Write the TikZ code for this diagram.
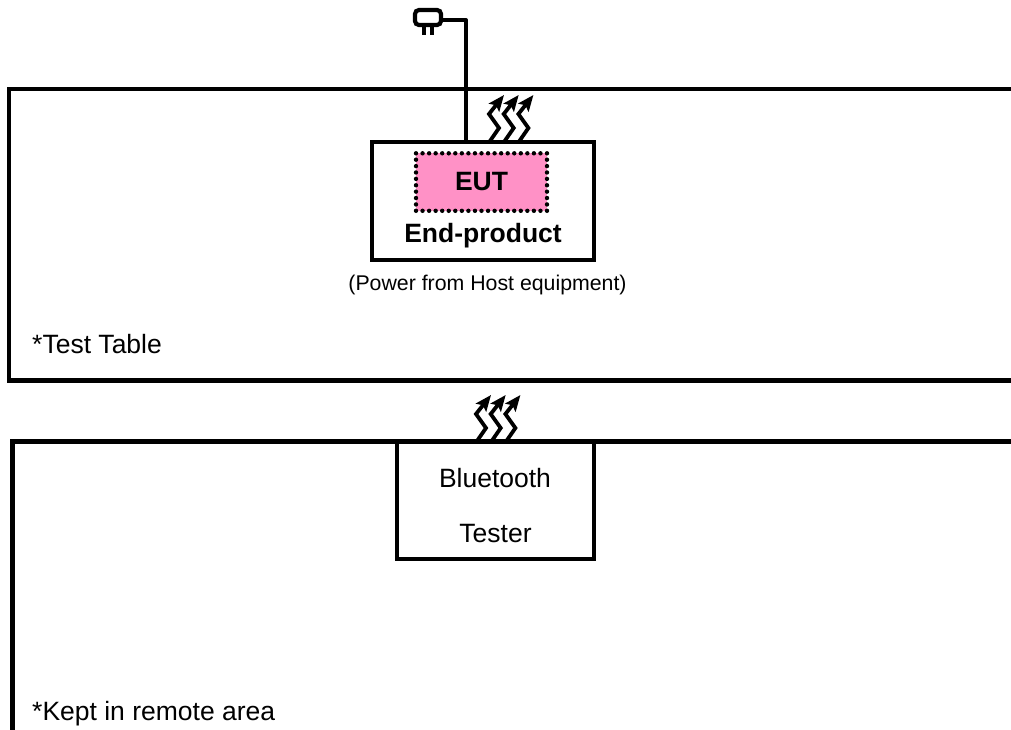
\documentclass[tikz,border=0pt]{standalone}
\usepackage{fontspec}
\setmainfont{Liberation Sans}
\usetikzlibrary{arrows.meta}
\definecolor{eutpink}{RGB}{255,145,198}
\tikzset{
  frame/.style={draw=black,line width=4.2pt},
  boxed/.style={draw=black,line width=4.4pt,anchor=north west,inner sep=0pt,outer sep=0pt},
  wire/.style={draw=black,line width=4pt,line join=round},
  wave/.style={draw=black,line width=3.8pt,line join=miter,-{Stealth[length=16pt,width=13pt,inset=3pt]}},
  txt/.style={inner sep=0pt,text=black,anchor=base,font=\fontsize{26.5}{30}\selectfont},
  small/.style={inner sep=0pt,text=black,anchor=base,font=\fontsize{21.3}{25}\selectfont},
  bold/.style={inner sep=0pt,text=black,anchor=base,font=\fontsize{26.5}{30}\selectfont\bfseries},
}
\newcommand{\wavepath}[2]{%
  \draw[wave] (#1,#2) -- ++(9,-13) -- ++(-10,-14) -- ++(15,-19);}
\begin{document}
\begin{tikzpicture}[x=1pt,y=-1pt]
\useasboundingbox[fill=white] (0,0) rectangle (1011,729);
% table and remote area
\draw[frame] (1015,89) -- (8.7,89) -- (8.7,380.5) -- (1015,380.5);
\draw[frame] (1015,441.5) -- (12.5,441.5) -- (12.5,733);
% end product
\node[boxed,minimum width=222pt,minimum height=118pt] (prod) at (372,142) {};
\node[fill=eutpink,draw=none,minimum width=131pt,minimum height=57.5pt,anchor=north west,inner sep=0pt,outer sep=0pt] (eut) at (416,153.3) {};
\foreach \i in {0,...,20} {
  \fill (416+\i*6.55,153.3) circle (2.2pt);
  \fill (416+\i*6.55,210.8) circle (2.2pt);
}
\foreach \i in {1,...,8} {
  \fill (416,153.3+\i*6.39) circle (2.2pt);
  \fill (547,153.3+\i*6.39) circle (2.2pt);
}
\node[bold] (euttxt) at (481.5,190.5) {EUT};
\node[bold] (prodtxt) at (483,242) {End-product};
\node[small] (power) at (487.5,290) {(Power from Host equipment)};
\node[txt,anchor=base west] (tbl) at (32,353) {*Test Table};
% tester
\node[boxed,minimum width=197pt,minimum height=118pt] (tester) at (397,441) {};
\node[txt] (bt) at (495,487) {Bluetooth};
\node[txt] (ts) at (495.5,542) {Tester};
\node[txt,anchor=base west] (rem) at (32,720) {*Kept in remote area};
% plug
\node[draw=black,line width=4.2pt,rounded corners=4pt,minimum width=26pt,minimum height=15pt,anchor=north west,inner sep=0pt,outer sep=0pt] (plug) at (415,10) {};
\coordinate (p1) at (424,25);
\coordinate (p2) at (432,25);
\draw[line width=3.8pt] (p1) -- ++(0,10);
\draw[line width=3.8pt] (p2) -- ++(0,10);
\coordinate (corner) at (466,20);
\coordinate (entry) at (466,142);
\draw[wire] (plug.east |- corner) -- (corner) -- (entry);
% waves
\wavepath{490}{141}
\wavepath{504.7}{141}
\wavepath{519.4}{141}
\wavepath{477}{441}
\wavepath{491.7}{441}
\wavepath{506.4}{441}
\end{tikzpicture}
\end{document}
